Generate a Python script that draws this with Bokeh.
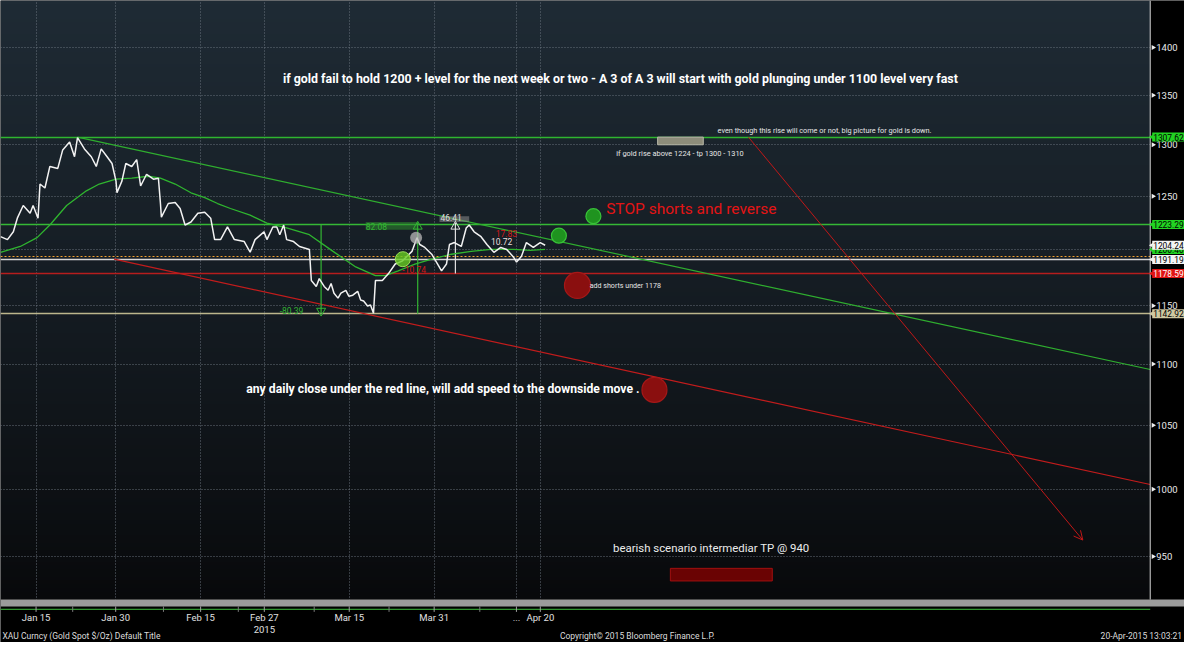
import numpy as np
from bokeh.plotting import figure
from bokeh.models import Range1d, FixedTicker, Label, Arrow, OpenHead
from bokeh.core.properties import value
from bokeh.embed import file_html
from bokeh.resources import INLINE

# ---------------- data (x = day of 2015, Jan 1 = 0; y = USD/oz) ----------------
PRICE_DAY = [7.31, 8.61, 9.72, 10.47, 11.58, 12.88, 13.44, 14.37, 14.74, 15.67, 16.60, 18.09,
             19.02, 20.32, 21.25, 21.81, 23.11, 24.41, 25.34, 26.27, 27.38, 28.31, 29.06, 29.24,
             30.17, 30.91, 32.03, 32.96, 33.70, 34.82, 36.12, 37.05, 37.42, 37.61, 38.91, 40.21,
             41.14, 42.07, 43.18, 44.48, 45.78, 46.90, 47.64, 48.76, 50.06, 51.36, 53.22, 54.33,
             55.26, 56.94, 57.49, 58.61, 59.35, 59.91, 60.65, 61.21, 62.51, 63.63, 65.49, 65.86,
             66.79, 67.35, 68.28, 69.02, 69.58, 70.13, 70.88, 71.43, 72.36, 72.92, 73.67, 74.59,
             75.15, 75.71, 76.45, 77.01, 77.57, 77.94, 79.24, 80.36, 81.66, 82.96, 83.89, 84.82,
             85.75, 86.30, 87.23, 88.54, 89.65, 90.39, 91.32, 91.88, 92.81, 94.11, 95.04, 95.60,
             96.53, 97.83, 98.94, 100.25, 101.55, 102.66, 103.96, 104.52, 105.45, 106.38, 107.68,
             108.98, 109.91]
PRICE_VAL = [1212.1, 1209.4, 1216.6, 1229.3, 1241.2, 1233.9, 1241.2, 1229.3, 1261.7, 1257.9, 1278.7, 1276.8,
             1294.9, 1302.7, 1288.2, 1307.0, 1295.9, 1288.2, 1278.7, 1295.9, 1288.2, 1281.6, 1264.5, 1253.3,
             1264.5, 1281.6, 1278.7, 1285.4, 1259.8, 1271.1, 1266.4, 1267.3, 1244.1, 1230.3, 1243.1, 1244.1,
             1238.4, 1222.9, 1225.7, 1233.9, 1234.8, 1229.3, 1209.4, 1209.4, 1221.1, 1209.4, 1207.6, 1197.8,
             1209.4, 1216.6, 1209.4, 1221.1, 1221.1, 1213.9, 1222.9, 1209.4, 1207.6, 1203.1, 1200.4, 1172.3,
             1167.0, 1174.0, 1167.0, 1163.6, 1169.6, 1161.0, 1156.7, 1161.0, 1163.6, 1158.4, 1159.3, 1162.7,
             1155.0, 1154.1, 1149.8, 1150.7, 1143.5, 1172.3, 1172.3, 1178.3, 1187.1, 1189.7, 1194.2, 1198.6,
             1211.2, 1204.9, 1202.2, 1196.0, 1187.1, 1180.9, 1187.1, 1204.9, 1206.7, 1203.1, 1220.2, 1222.9,
             1216.6, 1212.1, 1204.9, 1197.8, 1202.2, 1200.4, 1193.3, 1188.9, 1194.2, 1206.7, 1202.2,
             1206.7, 1204.24]

MA_DAY = [7.31, 11.03, 14.19, 16.60, 19.76, 23.48, 25.90, 29.06, 32.03, 35.19, 37.42, 40.21, 43.18,
          45.78, 48.20, 50.62, 54.33, 57.49, 61.21, 65.49, 69.95, 74.22, 77.94, 79.80, 82.22, 85.38,
          88.54, 92.25, 95.97, 99.69, 103.96, 107.12, 109.91]
MA_VAL = [1197.8, 1203.1, 1211.2, 1222.9, 1241.2, 1255.2, 1261.7, 1266.4, 1267.3, 1269.2, 1267.3, 1261.7,
          1253.3, 1248.7, 1243.1, 1238.4, 1232.1, 1224.7, 1220.2, 1213.9, 1198.6, 1184.5, 1176.6, 1176.6,
          1180.9, 1187.1, 1191.5, 1196.0, 1198.6, 1200.4, 1200.4, 1199.5, 1200.4]

LEVEL_VAL = [1307.62, 1223.29, 1191.19, 1178.59, 1142.92]
LEVEL_COLOR = ["#2fb52f", "#35b835", "#d6d6d6", "#b71d1d", "#bdb68c"]
DOTTED_LEVEL = [1193.5]

GREEN_TREND_X = [21.8, 223.9]
GREEN_TREND_Y = [1307.62, 1095.5]
RED_TREND_X = [28.7, 223.9]
RED_TREND_Y = [1191.5, 1003.6]
ARROW_X = [148.2, 211.2]
ARROW_Y = [1307.62, 962.0]

# measurement tool
MEAS_X = [67.7, 85.9, 93.0]
MEAS_Y0 = [1223.29, 1142.92, 1178.59]
MEAS_Y1 = [1142.92, 1224.98, 1225.0]
MEAS_COLOR = ["#33b533", "#33b533", "#e0e0e0"]

GREEN_DOT_X = [112.5, 119.0]
GREEN_DOT_Y = [1213.0, 1231.2]
RED_DOT_X = [116.0, 130.5]
RED_DOT_Y = [1167.9, 1078.6]

TP_ZONE = (133.5, 152.7, 941.5, 932.5)       # left, right, top, bottom
RISE_ZONE = (131.1, 139.7, 1307.62, 1300.0)

TAG_VAL = [1307.62, 1223.29, 1200.4, 1204.24, 1191.19, 1178.59, 1142.92]
TAG_TEXT = ["1307.62", "1223.29", "1200.40", "1204.24", "1191.19", "1178.59", "1142.92"]
TAG_BG = ["#22d322", "#22d322", "#22d322", "#f4f4f4", "#f4f4f4", "#e01414", "#cfc9a2"]
TAG_FG = ["black", "black", "black", "black", "black", "white", "black"]

Y_TICKS = [950, 1000, 1050, 1100, 1150, 1200, 1250, 1300, 1350, 1400]
Y_LABELS = [str(v) for v in Y_TICKS]
X_TICKS = [14, 29, 45, 57, 73, 89, 104.5, 109]
X_LABELS = ["Jan 15", "Jan 30", "Feb 15", "Feb 27", "Mar 15", "Mar 31", "...", "Apr 20"]
X_YEAR_TICK = [57]
X_YEAR_LABEL = ["2015"]
X_MINOR = [20.9, 38.0, 52.1, 66.4, 80.5, 97.6]

# ---------------- geometry of the Bloomberg-like canvas ----------------
X0, X_AXIS, X_END = 7.3, 223.9, 230.36     # left edge, price-axis line, right edge (days)
Y_END, Y_TOP = 889.8, 1451.0               # bottom / top of canvas (price scale, log)
Y_BAND_TOP, Y_BAND_BOT = 919.4, 914.6      # grey separator band under the price pane
Y_GREEN_RULE = 912.6
Y_TICK_END = 910.8
Y_XLABEL, Y_XYEAR, Y_FOOT = 906.6, 898.6, 894.0
FONT = "Roboto"

p = figure(width=1184, height=642, x_range=Range1d(X0, X_END), y_range=Range1d(Y_END, Y_TOP),
           y_axis_type="log", output_backend="svg", toolbar_location=None,
           min_border=0, border_fill_color="black", background_fill_color="black",
           outline_line_color=None)
p.xaxis.visible = False
p.yaxis.visible = False

# background gradient of the price pane
n = 160
t = np.linspace(0.0, 1.0, n)[:, None] ** 0.85
top_c = np.array([31, 43, 53], dtype=float)
bot_c = np.array([8, 9, 11], dtype=float)
img = np.empty((n, 1), dtype=np.uint32)
view = img.view(dtype=np.uint8).reshape((n, 1, 4))
for k in range(3):
    view[:, :, k] = (bot_c[k] + (top_c[k] - bot_c[k]) * t).astype(np.uint8)
view[:, :, 3] = 255
p.image_rgba(image=[img], x=X0, y=Y_BAND_TOP, dw=X_AXIS - X0, dh=Y_TOP - Y_BAND_TOP, level="image")

# grids
p.xgrid.ticker = FixedTicker(ticks=X_TICKS)
p.ygrid.ticker = FixedTicker(ticks=Y_TICKS)
for g in (p.xgrid, p.ygrid):
    g.grid_line_color = "#6f7984"
    g.grid_line_dash = "1 2"
    g.grid_line_alpha = 0.9

# level lines
p.hspan(y=LEVEL_VAL, line_color=LEVEL_COLOR, line_width=1.4)
p.hspan(y=DOTTED_LEVEL, line_color="#f0a030", line_dash="2 2", line_width=1.2)

# trend lines
p.line(GREEN_TREND_X, GREEN_TREND_Y, line_color="#2fae2f", line_width=1.2)
p.line(RED_TREND_X, RED_TREND_Y, line_color="#c21c1c", line_width=1.2)
p.add_layout(Arrow(end=OpenHead(size=9, line_color="#c01818", line_width=1),
                   x_start=ARROW_X[0], y_start=ARROW_Y[0], x_end=ARROW_X[1], y_end=ARROW_Y[1],
                   line_color="#c01818", line_width=1))

# zones
p.quad(left=[RISE_ZONE[0]], right=[RISE_ZONE[1]], top=[RISE_ZONE[2]], bottom=[RISE_ZONE[3]],
       fill_color="#8d8c7a", line_color="#b8b8a8", line_width=1)
p.quad(left=[TP_ZONE[0]], right=[TP_ZONE[1]], top=[TP_ZONE[2]], bottom=[TP_ZONE[3]],
       fill_color="#6a0303", line_color="#a01010", line_width=1)

# measurement tool
p.quad(left=[76.1], right=[85.9], top=[1225.7], bottom=[1218.4], fill_color="#2e8b2e",
       fill_alpha=0.55, line_color=None)
p.quad(left=[90.0], right=[95.6], top=[1231.2], bottom=[1225.7], fill_color="#8a8a8a",
       fill_alpha=0.55, line_color=None)
p.segment(x0=MEAS_X, y0=MEAS_Y0, x1=MEAS_X, y1=MEAS_Y1, line_color=MEAS_COLOR, line_width=1.2)
p.scatter([MEAS_X[0]], [1145.5], marker="inverted_triangle", size=9, fill_color=None,
          line_color="#33b533")
p.scatter([MEAS_X[1]], [1221.5], marker="triangle", size=9, fill_color=None, line_color="#33b533")
p.scatter([MEAS_X[2]], [1221.5], marker="triangle", size=9, fill_color=None, line_color="#e0e0e0")

# moving average and price
p.line(MA_DAY, MA_VAL, line_color="#2fb52f", line_width=1.3)
p.line(PRICE_DAY, PRICE_VAL, line_color="#f2f2f2", line_width=1.5)

# marker circles
p.scatter([85.6], [1211.2], size=12, fill_color="#b8b8b8", fill_alpha=0.75, line_color=None)
p.scatter([83.1], [1191.5], size=15, fill_color="#66cc22", fill_alpha=0.8, line_color="#9be05a")
p.scatter(GREEN_DOT_X, GREEN_DOT_Y, size=15, fill_color="#1f931f", line_color="#39c239",
          line_width=1.2)
p.scatter(RED_DOT_X, RED_DOT_Y, size=[26, 25], fill_color="#8a0f0f", line_color="#a51818",
          line_width=1.2)

# black margins (price-axis strip on the right, date strip at the bottom)
p.quad(left=[X_AXIS], right=[X_END], top=[Y_TOP], bottom=[Y_END], fill_color="black", line_color=None)
p.quad(left=[X0], right=[X_END], top=[Y_BAND_TOP], bottom=[Y_END], fill_color="black", line_color=None)

# grey separator band, green rule and the price-axis line
p.quad(left=[X0], right=[X_END], top=[Y_BAND_TOP], bottom=[Y_BAND_BOT], fill_color="#9b9b9b",
       line_color=None)
p.segment(x0=[X0], y0=[Y_GREEN_RULE], x1=[X_AXIS], y1=[Y_GREEN_RULE], line_color="#3fbf3f",
          line_width=1)
p.segment(x0=[X_AXIS], y0=[Y_BAND_TOP], x1=[X_AXIS], y1=[Y_TOP], line_color="#d8d8d8", line_width=1)

# price axis ticks and labels
p.scatter(x=[X_AXIS + 0.55] * len(Y_TICKS), y=Y_TICKS, marker="triangle", angle=-np.pi / 2,
          size=5, fill_color="#eeeeee", line_color=None)
p.text(x=[X_AXIS] * len(Y_TICKS), y=Y_TICKS, text=Y_LABELS, x_offset=6, text_color="#e8e8e8",
       text_font=value(FONT), text_font_size="9.5px", text_baseline="middle", text_align="left")

# date axis ticks and labels
p.segment(x0=X_TICKS, y0=[Y_BAND_BOT] * len(X_TICKS), x1=X_TICKS, y1=[Y_TICK_END] * len(X_TICKS),
          line_color="#a0a0a0", line_width=1)
p.segment(x0=X_MINOR, y0=[Y_BAND_BOT] * len(X_MINOR), x1=X_MINOR, y1=[Y_TICK_END] * len(X_MINOR),
          line_color="#7a7a7a", line_width=1)
p.text(x=X_TICKS, y=[Y_XLABEL] * len(X_TICKS), text=X_LABELS, text_color="#e0e0e0",
       text_font=value(FONT), text_font_size="9.5px", text_baseline="middle", text_align="center")
p.text(x=X_YEAR_TICK, y=[Y_XYEAR], text=X_YEAR_LABEL, text_color="#e0e0e0",
       text_font=value(FONT), text_font_size="9.5px", text_baseline="middle", text_align="center")


def lab(x, y, text, color="white", size="8px", bold=False, align="left"):
    p.add_layout(Label(x=x, y=y, text=text, text_color=color,
                       text_font_size=size, text_font=FONT,
                       text_font_style="bold" if bold else "normal",
                       text_align=align, text_baseline="middle"))


lab(60.5, 1367, "if gold fail to hold 1200 + level for the next week or two - A 3 of A 3 will start "
    "with gold plunging under 1100 level very fast", size="12.4px", bold=True)
lab(142.4, 1314.3, "even though this rise will come or not, big picture for gold is down.", size="7.3px",
    color="#e6e6e6")
lab(123.3, 1291.1, "if gold rise above 1224 - tp 1300 - 1310", size="7.4px", color="#e6e6e6")
lab(121.4, 1237.6, "STOP shorts and reverse", size="15.5px", color="#e41414")
lab(118.3, 1167.9, "add shorts under 1178", size="7.1px", color="#e6e6e6")
lab(53.6, 1079.4, "any daily close under the red line, will add speed to the downside move .",
    size="12.2px", bold=True)
lab(122.7, 956.3, "bearish scenario intermediar TP @ 940", size="11.4px", color="#ececec")

lab(59.9, 1145.5, "-80.39", size="8.5px", color="#33b533")
lab(76.1, 1221.8, "82.08", size="8.5px", color="#33b533")
lab(90.2, 1229.8, "46.41", size="8.5px", color="#dcdcdc")
lab(83.0, 1181.8, "-10.74", size="8.5px", color="#d01818")
lab(100.6, 1214.8, "17.83", size="8.5px", color="#d01818")
lab(99.7, 1207.6, "10.72", size="8.5px", color="#e8dede")

# price tags on the right axis
for v, txt, bg, fg in zip(TAG_VAL, TAG_TEXT, TAG_BG, TAG_FG):
    p.scatter([X_AXIS + 0.4], [v], marker="triangle", angle=np.pi / 2, size=6, fill_color=bg,
              line_color=None)
    p.add_layout(Label(x=X_AXIS, y=v, x_offset=2, text=txt, text_color=fg, text_font=FONT,
                       text_font_size="8.4px", text_align="left", text_baseline="middle",
                       background_fill_color=bg, padding=1))

# footer
lab(7.68, Y_FOOT, "XAU Curncy (Gold Spot  $/Oz) Default Title", size="8.5px", color="#dcdcdc")
lab(112.7, Y_FOOT, "Copyright\u00a9 2015 Bloomberg Finance L.P.", size="8.5px", color="#dcdcdc")
lab(229.9, Y_FOOT, "20-Apr-2015 13:03:21", size="8.5px", color="#dcdcdc", align="right")

open("out.html", "w").write(file_html(p, INLINE))
